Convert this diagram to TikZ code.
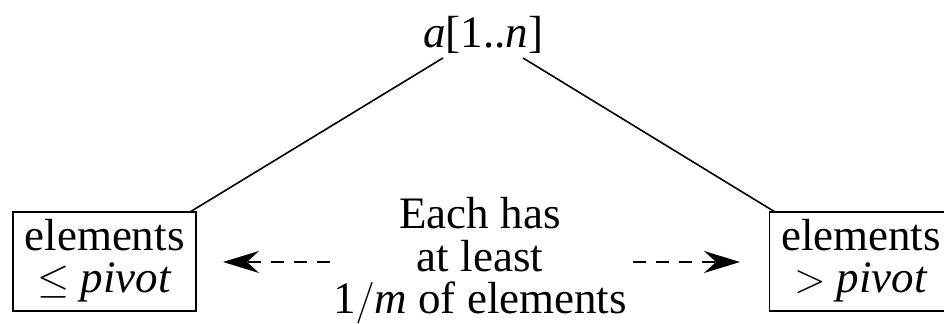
\documentclass[tikz,border=0pt]{standalone}
\usepackage{fontspec}
\setmainfont{Liberation Serif}
\usetikzlibrary{arrows.meta}
\begin{document}
\begin{tikzpicture}[x=0.5pt,y=-0.5pt,
  txt/.style={font=\fontsize{22.5}{21.3}\selectfont, align=center, inner sep=0pt},
  box/.style={txt, draw, line width=0.9pt, minimum width=91.5pt, minimum height=49.5pt},
  link/.style={line width=0.8pt},
  dasharrow/.style={line width=1pt, dash pattern=on 6.5pt off 5pt, -{Stealth[length=18pt,width=11pt,inset=6pt]}}]
\useasboundingbox (0,0) rectangle (944,324);
\clip (0,0) rectangle (944,324);
\node[txt, anchor=base] (top) at (483,48) {\textit{a}[1..\textit{n}]};
\node[txt, anchor=base] (lt) at (104.5,293) {elements\\$\leq$ \textit{pivot}};
\node[draw, line width=0.9pt, minimum width=91.5pt, minimum height=49.5pt, inner sep=0pt] (lbox) at (104.5,261.5) {};
\node[txt, anchor=base] (rt) at (861,293) {elements\\$>$ \textit{pivot}};
\node[draw, line width=0.9pt, minimum width=91.5pt, minimum height=49.5pt, inner sep=0pt] (rbox) at (861,261.5) {};
\node[txt, anchor=base] (mid) at (480,314) {Each has\\at least\\1$/$\textit{m} of elements};
\coordinate (tl) at (443,58);
\coordinate (tr) at (523,58);
\coordinate (lb) at (190,212);
\coordinate (rb) at (775,212);
\draw[link] (tl) -- (lb);
\draw[link] (tr) -- (rb);
\coordinate (ls) at (330,262);
\coordinate (le) at (223,262);
\coordinate (rs) at (633,262);
\coordinate (re) at (740,262);
\draw[dasharrow] (ls) -- (le);
\draw[dasharrow] (rs) -- (re);
\end{tikzpicture}
\end{document}
